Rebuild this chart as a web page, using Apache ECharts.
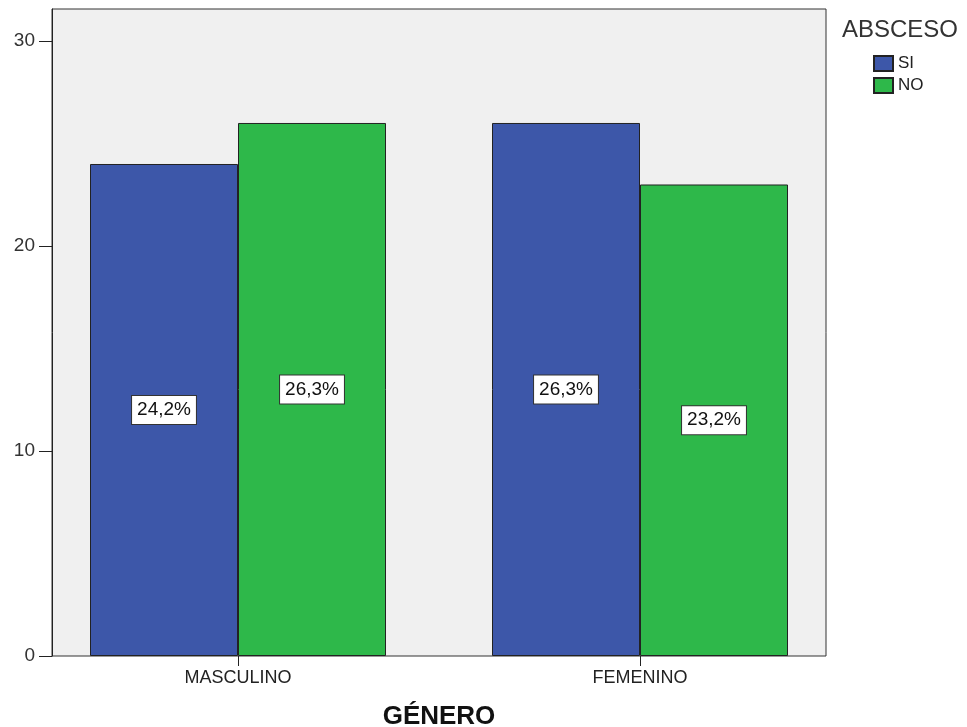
<!DOCTYPE html>
<html>
<head>
<meta charset="utf-8">
<script src="https://cdn.jsdelivr.net/npm/echarts@6/dist/echarts.min.js"></script>
<style>
  html, body { margin: 0; padding: 0; background: #ffffff; }
  #chart { width: 967px; height: 727px; }
</style>
</head>
<body>
<div id="chart"></div>
<script>
// Recuento de pacientes por género y presencia de absceso
const categories = ['MASCULINO', 'FEMENINO'];
const seriesNames = ['SI', 'NO'];
const siValues = [24, 26];
const noValues = [26, 23];
const yTicks = [0, 10, 20, 30];

const total = siValues.concat(noValues).reduce((a, b) => a + b, 0);
const pct = v => (v / total * 100).toFixed(1).replace('.', ',') + '%';

const FONT = '"Liberation Sans", Arial, sans-serif';
const yMax = 31.56;

const labelStyle = {
  show: true,
  position: 'inside',
  formatter: p => pct(p.value),
  color: '#111',
  fontFamily: FONT,
  fontSize: 19,
  backgroundColor: '#ffffff',
  borderColor: '#333',
  borderWidth: 1,
  padding: [5, 5, 4, 5]
};

const chart = echarts.init(document.getElementById('chart'), null, { renderer: 'canvas' });

chart.setOption({
  animation: false,
  backgroundColor: '#ffffff',
  title: {
    text: 'ABSCESO',
    left: 842,
    top: 18,
    padding: 0,
    textStyle: { fontFamily: FONT, fontSize: 24, fontWeight: 'normal', color: '#333' }
  },
  legend: {
    orient: 'vertical',
    left: 873,
    top: 55,
    padding: 0,
    itemWidth: 19,
    itemHeight: 15,
    itemGap: 5,
    icon: 'rect',
    data: seriesNames,
    textStyle: { fontFamily: FONT, fontSize: 17, color: '#222' }
  },
  grid: [
    { left: 52, right: 141, top: 9, bottom: 71, show: true, outerBoundsMode: 'none',
      backgroundColor: '#f0f0f0', borderColor: '#333', borderWidth: 1 },
    { left: 37, right: 126, top: 9, bottom: 71, outerBoundsMode: 'none' }
  ],
  xAxis: [
    { type: 'value', gridIndex: 0, show: false, min: 0, max: 1 },
    {
      type: 'category', gridIndex: 1, data: categories,
      axisLine: { show: false },
      axisTick: { show: true, alignWithLabel: true, length: 10, lineStyle: { color: '#222', width: 1 } },
      axisLabel: { fontFamily: FONT, fontSize: 18, color: '#222', margin: 13 },
      name: 'GÉNERO',
      nameLocation: 'middle',
      nameGap: 48,
      nameTextStyle: { fontFamily: FONT, fontSize: 26, fontWeight: 'bold', color: '#111' }
    }
  ],
  yAxis: [
    {
      type: 'value', gridIndex: 0, min: 0, max: yMax, interval: 10,
      axisLine: { show: true, lineStyle: { color: '#222', width: 1 } },
      axisTick: { show: true, length: 13, lineStyle: { color: '#222', width: 1 },
        customValues: yTicks },
      axisLabel: { fontFamily: FONT, fontSize: 19, color: '#333', margin: 17,
        customValues: yTicks },
      splitLine: { show: false }
    },
    { type: 'value', gridIndex: 1, min: 0, max: yMax, show: false }
  ],
  series: [
    {
      name: seriesNames[0], type: 'bar', xAxisIndex: 1, yAxisIndex: 1,
      data: siValues, barWidth: 148, barGap: '0%',
      itemStyle: { color: '#3D57A9', borderColor: '#222', borderWidth: 1 },
      label: labelStyle
    },
    {
      name: seriesNames[1], type: 'bar', xAxisIndex: 1, yAxisIndex: 1,
      data: noValues, barWidth: 148, barGap: '0%',
      itemStyle: { color: '#2EB84A', borderColor: '#222', borderWidth: 1 },
      label: labelStyle
    }
  ]
});
</script>
</body>
</html>
